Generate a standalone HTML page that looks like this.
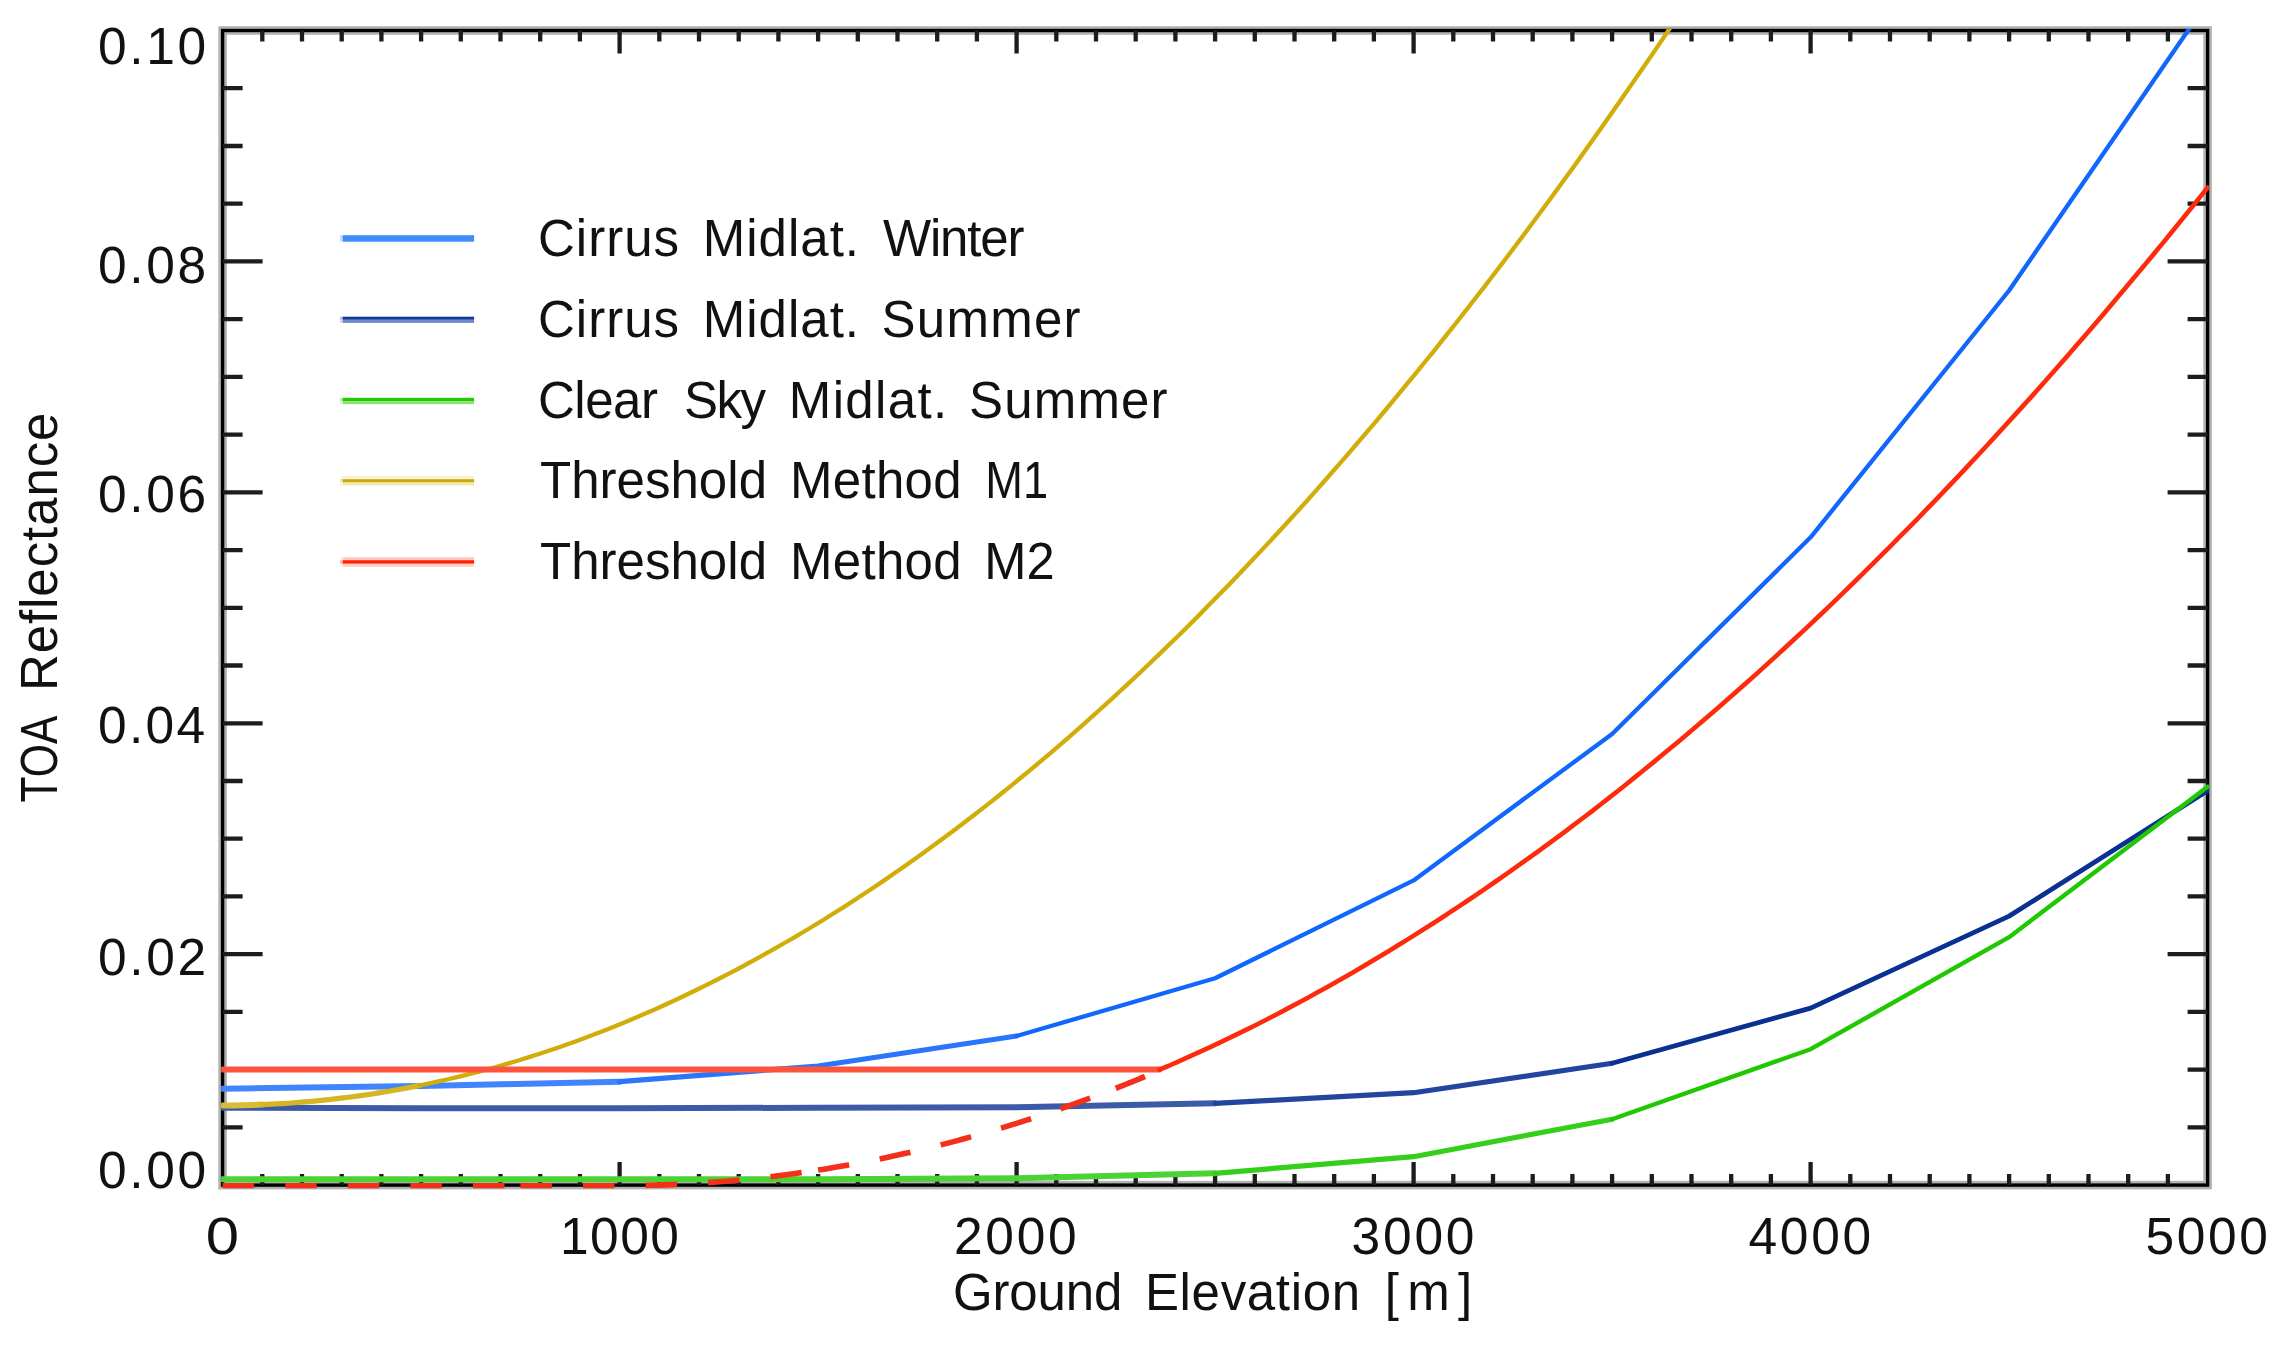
<!DOCTYPE html>
<html lang="en"><head><meta charset="utf-8"><title>TOA Reflectance vs Ground Elevation</title>
<style>
html,body{margin:0;padding:0;background:#fff;}
body{width:2281px;height:1346px;overflow:hidden;}
svg{display:block;filter:blur(0.7px);}
text{font-family:"Liberation Sans",sans-serif;fill:#111;}
</style></head><body>
<svg width="2281" height="1346" viewBox="0 0 2281 1346">
<rect width="2281" height="1346" fill="#ffffff"/>
<defs><clipPath id="plot"><rect x="221.1" y="29.0" width="1988.0" height="1159.6"/></clipPath></defs>

<g stroke="#000" fill="none">
<rect x="222.6" y="30.5" width="1985.0" height="1154.6" stroke-width="8.6" stroke-opacity="0.3"/>
<rect x="222.6" y="30.5" width="1985.0" height="1154.6" stroke-width="3.4"/>
<path d="M262.3,30.5v11 M262.3,1185.1v-11 M302.0,30.5v11 M302.0,1185.1v-11 M341.7,30.5v11 M341.7,1185.1v-11 M381.4,30.5v11 M381.4,1185.1v-11 M421.1,30.5v11 M421.1,1185.1v-11 M460.8,30.5v11 M460.8,1185.1v-11 M500.5,30.5v11 M500.5,1185.1v-11 M540.2,30.5v11 M540.2,1185.1v-11 M579.9,30.5v11 M579.9,1185.1v-11 M619.6,30.5v23 M619.6,1185.1v-23 M659.3,30.5v11 M659.3,1185.1v-11 M699.0,30.5v11 M699.0,1185.1v-11 M738.7,30.5v11 M738.7,1185.1v-11 M778.4,30.5v11 M778.4,1185.1v-11 M818.1,30.5v11 M818.1,1185.1v-11 M857.8,30.5v11 M857.8,1185.1v-11 M897.5,30.5v11 M897.5,1185.1v-11 M937.2,30.5v11 M937.2,1185.1v-11 M976.9,30.5v11 M976.9,1185.1v-11 M1016.6,30.5v23 M1016.6,1185.1v-23 M1056.3,30.5v11 M1056.3,1185.1v-11 M1096.0,30.5v11 M1096.0,1185.1v-11 M1135.7,30.5v11 M1135.7,1185.1v-11 M1175.4,30.5v11 M1175.4,1185.1v-11 M1215.1,30.5v11 M1215.1,1185.1v-11 M1254.8,30.5v11 M1254.8,1185.1v-11 M1294.5,30.5v11 M1294.5,1185.1v-11 M1334.2,30.5v11 M1334.2,1185.1v-11 M1373.9,30.5v11 M1373.9,1185.1v-11 M1413.6,30.5v23 M1413.6,1185.1v-23 M1453.3,30.5v11 M1453.3,1185.1v-11 M1493.0,30.5v11 M1493.0,1185.1v-11 M1532.7,30.5v11 M1532.7,1185.1v-11 M1572.4,30.5v11 M1572.4,1185.1v-11 M1612.1,30.5v11 M1612.1,1185.1v-11 M1651.8,30.5v11 M1651.8,1185.1v-11 M1691.5,30.5v11 M1691.5,1185.1v-11 M1731.2,30.5v11 M1731.2,1185.1v-11 M1770.9,30.5v11 M1770.9,1185.1v-11 M1810.6,30.5v23 M1810.6,1185.1v-23 M1850.3,30.5v11 M1850.3,1185.1v-11 M1890.0,30.5v11 M1890.0,1185.1v-11 M1929.7,30.5v11 M1929.7,1185.1v-11 M1969.4,30.5v11 M1969.4,1185.1v-11 M2009.1,30.5v11 M2009.1,1185.1v-11 M2048.8,30.5v11 M2048.8,1185.1v-11 M2088.5,30.5v11 M2088.5,1185.1v-11 M2128.2,30.5v11 M2128.2,1185.1v-11 M2167.9,30.5v11 M2167.9,1185.1v-11 M222.6,1127.4h20 M2207.6,1127.4h-20 M222.6,1069.6h20 M2207.6,1069.6h-20 M222.6,1011.9h20 M2207.6,1011.9h-20 M222.6,954.2h40 M2207.6,954.2h-40 M222.6,896.4h20 M2207.6,896.4h-20 M222.6,838.7h20 M2207.6,838.7h-20 M222.6,781.0h20 M2207.6,781.0h-20 M222.6,723.3h40 M2207.6,723.3h-40 M222.6,665.5h20 M2207.6,665.5h-20 M222.6,607.8h20 M2207.6,607.8h-20 M222.6,550.1h20 M2207.6,550.1h-20 M222.6,492.3h40 M2207.6,492.3h-40 M222.6,434.6h20 M2207.6,434.6h-20 M222.6,376.9h20 M2207.6,376.9h-20 M222.6,319.1h20 M2207.6,319.1h-20 M222.6,261.4h40 M2207.6,261.4h-40 M222.6,203.7h20 M2207.6,203.7h-20 M222.6,146.0h20 M2207.6,146.0h-20 M222.6,88.2h20 M2207.6,88.2h-20" stroke-width="4.3" stroke="#1c1c1c"/>
</g>
<g clip-path="url(#plot)" fill="none" stroke-linejoin="round">
<path d="M222.6,1088.7 L421.1,1086.0 L619.6,1081.7" stroke="#4185fd" stroke-width="6.0" stroke-linecap="round"/>
<path d="M619.6,1081.7 L818.1,1066.0 L1016.6,1036.0" stroke="#2975fc" stroke-width="5.2" stroke-linecap="round"/>
<path d="M1016.6,1036.0 L1215.1,978.3 L1413.6,880.4 L1612.1,734.0 L1810.6,537.3 L2009.1,290.5 L2207.6,2.1" stroke="#1166fc" stroke-width="4.3" stroke-linecap="round"/>
<path d="M222.6,1107.7 L421.1,1108.3 L619.6,1108.3 L818.1,1107.7 L1016.6,1107.3 L1215.1,1103.3" stroke="#3b5aa8" stroke-width="6.0" stroke-linecap="round"/>
<path d="M1215.1,1103.3 L1413.6,1092.7 L1612.1,1063.3" stroke="#22469d" stroke-width="5.2" stroke-linecap="round"/>
<path d="M1612.1,1063.3 L1810.6,1008.1 L2009.1,916.1 L2207.6,790.8" stroke="#0a3192" stroke-width="4.8" stroke-linecap="round"/>
<path d="M222.6,1179.3 L421.1,1179.3 L619.6,1179.3 L818.1,1179.3 L1016.6,1178.3 L1215.1,1173.3" stroke="#4cd333" stroke-width="6.0" stroke-linecap="round"/>
<path d="M1215.1,1173.3 L1413.6,1156.7 L1612.1,1119.3" stroke="#35ce1a" stroke-width="5.2" stroke-linecap="round"/>
<path d="M1612.1,1119.3 L1810.6,1049.2 L2009.1,937.2 L2207.6,786.7" stroke="#1fc800" stroke-width="4.4" stroke-linecap="round"/>
<path d="M222.6,1105.4 L232.5,1105.4 L242.3,1105.2 L252.2,1105.0 L262.0,1104.6" stroke="#d9bd39" stroke-width="6.0" stroke-linecap="round"/>
<path d="M262.0,1104.6 L271.9,1104.2 L281.8,1103.6 L291.6,1103.0 L301.5,1102.2 L311.3,1101.4 L321.2,1100.4 L331.0,1099.4 L340.9,1098.2 L350.8,1097.0 L360.6,1095.6 L370.5,1094.2 L380.3,1092.6 L390.2,1091.0 L400.1,1089.2 L409.9,1087.4 L419.8,1085.4" stroke="#d5b521" stroke-width="5.2" stroke-linecap="round"/>
<path d="M419.8,1085.4 L429.6,1083.4 L439.5,1081.2 L449.3,1079.0 L459.2,1076.6 L469.1,1074.2 L478.9,1071.6 L488.8,1069.0 L498.6,1066.2 L508.5,1063.4 L518.4,1060.5 L528.2,1057.4 L538.1,1054.3 L547.9,1051.0 L557.8,1047.7 L567.6,1044.2 L577.5,1040.7 L587.4,1037.0 L597.2,1033.3 L607.1,1029.4 L616.9,1025.5 L626.8,1021.4 L636.7,1017.3 L646.5,1013.0 L656.4,1008.7 L666.2,1004.2 L676.1,999.7 L685.9,995.0 L695.8,990.3 L705.7,985.4 L715.5,980.5 L725.4,975.4 L735.2,970.3 L745.1,965.0 L755.0,959.7 L764.8,954.2 L774.7,948.7 L784.5,943.0 L794.4,937.3 L804.2,931.5 L814.1,925.5 L824.0,919.5 L833.8,913.3 L843.7,907.1 L853.5,900.7 L863.4,894.3 L873.3,887.7 L883.1,881.1 L893.0,874.3 L902.8,867.5 L912.7,860.5 L922.5,853.5 L932.4,846.3 L942.3,839.1 L952.1,831.7 L962.0,824.3 L971.8,816.7 L981.7,809.1 L991.6,801.4 L1001.4,793.5 L1011.3,785.6 L1021.1,777.5 L1031.0,769.4 L1040.8,761.1 L1050.7,752.8 L1060.6,744.3 L1070.4,735.8 L1080.3,727.1 L1090.1,718.4 L1100.0,709.5 L1109.9,700.6 L1119.7,691.5 L1129.6,682.4 L1139.4,673.2 L1149.3,663.8 L1159.1,654.4 L1169.0,644.8 L1178.9,635.2 L1188.7,625.4 L1198.6,615.6 L1208.4,605.6 L1218.3,595.6 L1228.2,585.4 L1238.0,575.2 L1247.9,564.8 L1257.7,554.4 L1267.6,543.9 L1277.4,533.2 L1287.3,522.5 L1297.2,511.6 L1307.0,500.7 L1316.9,489.6 L1326.7,478.5 L1336.6,467.2 L1346.5,455.9 L1356.3,444.4 L1366.2,432.9 L1376.0,421.3 L1385.9,409.5 L1395.7,397.7 L1405.6,385.7 L1415.5,373.7 L1425.3,361.5 L1435.2,349.3 L1445.0,336.9 L1454.9,324.5 L1464.8,311.9 L1474.6,299.3 L1484.5,286.6 L1494.3,273.7 L1504.2,260.8 L1514.0,247.7 L1523.9,234.6 L1533.8,221.3 L1543.6,208.0 L1553.5,194.5 L1563.3,181.0 L1573.2,167.4 L1583.1,153.6 L1592.9,139.8 L1602.8,125.8 L1612.6,111.8 L1622.5,97.6 L1632.3,83.4 L1642.2,69.0 L1652.1,54.6 L1661.9,40.1 L1671.8,25.4 L1681.6,10.7 L1691.5,-4.2" stroke="#d0ad08" stroke-width="4.3" stroke-linecap="round"/>
<path d="M222.6,1069.6 L1159.5,1069.6" stroke="#fd553d" stroke-width="6.0" stroke-linecap="round"/>
<path d="M1159.5,1069.6 L1168.3,1066.0 L1177.1,1062.1 L1185.9,1058.2 L1194.7,1054.2 L1203.6,1050.2 L1212.4,1046.1 L1221.2,1041.9 L1230.0,1037.7 L1238.8,1033.4 L1247.6,1029.1 L1256.4,1024.7 L1265.2,1020.2 L1274.0,1015.7 L1282.8,1011.1 L1291.6,1006.4 L1300.4,1001.7 L1309.2,997.0 L1318.1,992.1 L1326.9,987.2 L1335.7,982.3 L1344.5,977.2 L1353.3,972.2 L1362.1,967.0 L1370.9,961.8 L1379.7,956.5 L1388.5,951.2 L1397.3,945.8 L1406.1,940.4 L1414.9,934.9 L1423.7,929.3 L1432.5,923.7 L1441.4,918.0 L1450.2,912.2 L1459.0,906.4 L1467.8,900.5 L1476.6,894.6 L1485.4,888.6 L1494.2,882.5 L1503.0,876.4 L1511.8,870.2 L1520.6,863.9 L1529.4,857.6 L1538.2,851.3 L1547.0,844.8 L1555.9,838.3 L1564.7,831.8 L1573.5,825.2 L1582.3,818.5 L1591.1,811.8 L1599.9,805.0 L1608.7,798.1 L1617.5,791.2 L1626.3,784.2 L1635.1,777.1 L1643.9,770.0 L1652.7,762.9 L1661.5,755.6 L1670.3,748.3 L1679.2,741.0 L1688.0,733.6 L1696.8,726.1 L1705.6,718.6 L1714.4,711.0 L1723.2,703.3 L1732.0,695.6 L1740.8,687.8 L1749.6,680.0 L1758.4,672.1 L1767.2,664.1 L1776.0,656.1 L1784.8,648.0 L1793.7,639.8 L1802.5,631.6 L1811.3,623.3 L1820.1,615.0 L1828.9,606.6 L1837.7,598.1 L1846.5,589.6 L1855.3,581.0 L1864.1,572.4 L1872.9,563.7 L1881.7,554.9 L1890.5,546.1 L1899.3,537.2 L1908.1,528.3 L1917.0,519.3 L1925.8,510.2 L1934.6,501.1 L1943.4,491.9 L1952.2,482.6 L1961.0,473.3 L1969.8,463.9 L1978.6,454.5 L1987.4,445.0 L1996.2,435.4 L2005.0,425.8 L2013.8,416.1 L2022.6,406.4 L2031.5,396.6 L2040.3,386.7 L2049.1,376.8 L2057.9,366.8 L2066.7,356.7 L2075.5,346.6 L2084.3,336.4 L2093.1,326.2 L2101.9,315.9 L2110.7,305.5 L2119.5,295.1 L2128.3,284.6 L2137.1,274.1 L2145.9,263.5 L2154.8,252.8 L2163.6,242.1 L2172.4,231.3 L2181.2,220.4 L2190.0,209.5 L2198.8,198.6 L2207.6,187.5" stroke="#fd2a0c" stroke-width="4.6" stroke-linecap="round"/>
<path d="M222.6,1185.7 L230.2,1185.7 L237.9,1185.7 L245.5,1185.7 L253.1,1185.7 L260.8,1185.7 L268.4,1185.7 L276.0,1185.7 L283.7,1185.7 L291.3,1185.7 L298.9,1185.7 L306.6,1185.7 L314.2,1185.7 L321.9,1185.7 L329.5,1185.7 L337.1,1185.7 L344.8,1185.7 L352.4,1185.7 L360.0,1185.7 L367.7,1185.7 L375.3,1185.7 L382.9,1185.7 L390.6,1185.7 L398.2,1185.7 L405.8,1185.7 L413.5,1185.7 L421.1,1185.7 L428.7,1185.7 L436.4,1185.7 L444.0,1185.7 L451.6,1185.7 L459.3,1185.7 L466.9,1185.7 L474.5,1185.7 L482.2,1185.7 L489.8,1185.7 L497.4,1185.7 L505.1,1185.7 L512.7,1185.7 L520.4,1185.7" stroke="#f4301a" stroke-width="5.6" stroke-dasharray="31.5 31.1"/>
<path d="M520.4,1185.7 L528.0,1185.7 L535.6,1185.7 L543.3,1185.7 L550.9,1185.7 L558.5,1185.7 L566.2,1185.7 L573.8,1185.7 L581.4,1185.7 L589.1,1185.7 L596.7,1185.7 L604.3,1185.7 L612.0,1185.7 L619.6,1185.7 L627.2,1185.7 L634.9,1185.6 L642.5,1185.5 L650.1,1185.3 L657.8,1185.1 L665.4,1184.9 L673.0,1184.6 L680.7,1184.2 L688.3,1183.8 L695.9,1183.4 L703.6,1182.9 L711.2,1182.4 L718.9,1181.8 L726.5,1181.2 L734.1,1180.5 L741.8,1179.8 L749.4,1179.0 L757.0,1178.2 L764.7,1177.4 L772.3,1176.5 L779.9,1175.5 L787.6,1174.5 L795.2,1173.5 L802.8,1172.4 L810.5,1171.3 L818.1,1170.1" stroke="#f4301a" stroke-width="5.6" stroke-dasharray="31.5 31.1"/>
<path d="M818.1,1170.1 L825.7,1168.9 L833.4,1167.6 L841.0,1166.3 L848.6,1164.9 L856.3,1163.5 L863.9,1162.1 L871.5,1160.6 L879.2,1159.0 L886.8,1157.5 L894.4,1155.8 L902.1,1154.1 L909.7,1152.4 L917.4,1150.6 L925.0,1148.8 L932.6,1146.9 L940.3,1145.0 L947.9,1143.1 L955.5,1141.1 L963.2,1139.0 L970.8,1136.9 L978.4,1134.8 L986.1,1132.6 L993.7,1130.3 L1001.3,1128.1 L1009.0,1125.7 L1016.6,1123.4 L1024.2,1120.9 L1031.9,1118.5 L1039.5,1116.0 L1047.1,1113.4 L1054.8,1110.8 L1062.4,1108.1 L1070.0,1105.4 L1077.7,1102.7 L1085.3,1099.9 L1092.9,1097.1 L1100.6,1094.2 L1108.2,1091.3 L1115.8,1088.3" stroke="#f4301a" stroke-width="5.6" stroke-dasharray="31.5 31.1"/>
<path d="M1115.8,1088.3 L1117.0,1087.8 L1118.1,1087.4 L1119.2,1087.0 L1120.3,1086.5 L1121.4,1086.1 L1122.6,1085.6 L1123.7,1085.2 L1124.8,1084.7 L1125.9,1084.3 L1127.0,1083.8 L1128.2,1083.4 L1129.3,1082.9 L1130.4,1082.5 L1131.5,1082.0 L1132.6,1081.6 L1133.8,1081.1 L1134.9,1080.7 L1136.0,1080.2 L1137.1,1079.7 L1138.2,1079.3 L1139.4,1078.8 L1140.5,1078.4 L1141.6,1077.9 L1142.7,1077.4 L1143.8,1077.0 L1145.0,1076.5 L1146.1,1076.0 L1147.2,1075.6 L1148.3,1075.1 L1149.4,1074.6 L1150.6,1074.2 L1151.7,1073.7 L1152.8,1073.2 L1153.9,1072.8 L1155.0,1072.3 L1156.2,1071.8 L1157.3,1071.3 L1158.4,1070.9 L1159.5,1070.4" stroke="#f4301a" stroke-width="5.6" stroke-dasharray="31.5 31.1"/>
</g>
<rect x="342.6" y="235.2" width="131.5" height="6.5" fill="#3f8cff"/>
<rect x="340" y="235.2" width="2.6" height="6.5" fill="#3f8cff" fill-opacity="0.3"/>
<rect x="342.6" y="316.7" width="131.5" height="3.1" fill="#0d3b9c"/>
<rect x="340" y="316.7" width="2.6" height="3.1" fill="#0d3b9c" fill-opacity="0.3"/>
<rect x="342.6" y="319.8" width="131.5" height="3.1" fill="#6d89c9"/>
<rect x="340" y="319.8" width="2.6" height="3.1" fill="#6d89c9" fill-opacity="0.3"/>
<rect x="342.6" y="397.8" width="131.5" height="3.3" fill="#22c803"/>
<rect x="340" y="397.8" width="2.6" height="3.3" fill="#22c803" fill-opacity="0.3"/>
<rect x="342.6" y="401.1" width="131.5" height="3.0" fill="#8be276"/>
<rect x="340" y="401.1" width="2.6" height="3.0" fill="#8be276" fill-opacity="0.3"/>
<rect x="342.6" y="476.2" width="131.5" height="3.0" fill="#f6eecf"/>
<rect x="340" y="476.2" width="2.6" height="3.0" fill="#f6eecf" fill-opacity="0.3"/>
<rect x="342.6" y="479.2" width="131.5" height="3.3" fill="#c9a904"/>
<rect x="340" y="479.2" width="2.6" height="3.3" fill="#c9a904" fill-opacity="0.3"/>
<rect x="342.6" y="482.5" width="131.5" height="3.0" fill="#f1e6b6"/>
<rect x="340" y="482.5" width="2.6" height="3.0" fill="#f1e6b6" fill-opacity="0.3"/>
<rect x="342.6" y="557.2" width="131.5" height="3.0" fill="#ffcac2"/>
<rect x="340" y="557.2" width="2.6" height="3.0" fill="#ffcac2" fill-opacity="0.3"/>
<rect x="342.6" y="560.2" width="131.5" height="3.6" fill="#ff2200"/>
<rect x="340" y="560.2" width="2.6" height="3.6" fill="#ff2200" fill-opacity="0.3"/>
<rect x="342.6" y="563.8" width="131.5" height="3.0" fill="#ffd2ca"/>
<rect x="340" y="563.8" width="2.6" height="3.0" fill="#ffd2ca" fill-opacity="0.3"/>
<text y="256.2" font-size="51"><tspan x="538.0" textLength="141.1" lengthAdjust="spacing">Cirrus</tspan> <tspan x="702.8" textLength="156.2" lengthAdjust="spacing">Midlat.</tspan> <tspan x="883.0" textLength="141.4" lengthAdjust="spacing">Winter</tspan></text>
<text y="337.1" font-size="51"><tspan x="538.0" textLength="141.1" lengthAdjust="spacing">Cirrus</tspan> <tspan x="702.8" textLength="156.2" lengthAdjust="spacing">Midlat.</tspan> <tspan x="881.5" textLength="199.1" lengthAdjust="spacing">Summer</tspan></text>
<text y="417.6" font-size="51"><tspan x="538.0" textLength="119.9" lengthAdjust="spacing">Clear</tspan> <tspan x="684.0" textLength="82.1" lengthAdjust="spacing">Sky</tspan> <tspan x="788.8" textLength="158.4" lengthAdjust="spacing">Midlat.</tspan> <tspan x="969.0" textLength="198.6" lengthAdjust="spacing">Summer</tspan></text>
<text y="497.7" font-size="51"><tspan x="540.0" textLength="227.0" lengthAdjust="spacing">Threshold</tspan> <tspan x="789.9" textLength="171.8" lengthAdjust="spacing">Method</tspan> <tspan x="985.3" textLength="62.8" lengthAdjust="spacingAndGlyphs">M1</tspan></text>
<text y="578.6" font-size="51"><tspan x="540.0" textLength="227.0" lengthAdjust="spacing">Threshold</tspan> <tspan x="789.9" textLength="171.8" lengthAdjust="spacing">Method</tspan> <tspan x="984.2" textLength="70.4" lengthAdjust="spacingAndGlyphs">M2</tspan></text>
<text y="1309.6" font-size="51"><tspan x="952.9" textLength="169.5" lengthAdjust="spacing">Ground</tspan> <tspan x="1144.9" textLength="215.2" lengthAdjust="spacing">Elevation</tspan> <tspan x="1384.7" textLength="87.5" lengthAdjust="spacing">[m]</tspan></text>
<text x="205.8" textLength="33.3" lengthAdjust="spacingAndGlyphs" y="1253.8" font-size="51.5">0</text>
<text x="559.9" textLength="119.0" lengthAdjust="spacing" y="1253.8" font-size="51.5">1000</text>
<text x="954.0" textLength="122.6" lengthAdjust="spacing" y="1253.8" font-size="51.5">2000</text>
<text x="1351.5" textLength="123.0" lengthAdjust="spacing" y="1253.8" font-size="51.5">3000</text>
<text x="1748.5" textLength="122.6" lengthAdjust="spacing" y="1253.8" font-size="51.5">4000</text>
<text x="2145.5" textLength="122.4" lengthAdjust="spacing" y="1253.8" font-size="51.5">5000</text>
<text x="98.0" textLength="108.2" lengthAdjust="spacing" y="63.7" font-size="51.5">0.10</text>
<text x="98.0" textLength="108.2" lengthAdjust="spacing" y="282.6" font-size="51.5">0.08</text>
<text x="98.0" textLength="108.2" lengthAdjust="spacing" y="512.2" font-size="51.5">0.06</text>
<text x="98.0" textLength="107.1" lengthAdjust="spacing" y="743.3" font-size="51.5">0.04</text>
<text x="98.0" textLength="108.2" lengthAdjust="spacing" y="975.2" font-size="51.5">0.02</text>
<text x="98.0" textLength="108.2" lengthAdjust="spacing" y="1188.4" font-size="51.5">0.00</text>
<g transform="translate(56.7,802.5) rotate(-90)"><text y="0" font-size="51"><tspan x="0" textLength="84.5" lengthAdjust="spacingAndGlyphs">TOA</tspan> <tspan x="111.5" textLength="278.5" lengthAdjust="spacing">Reflectance</tspan></text></g>
</svg></body></html>
